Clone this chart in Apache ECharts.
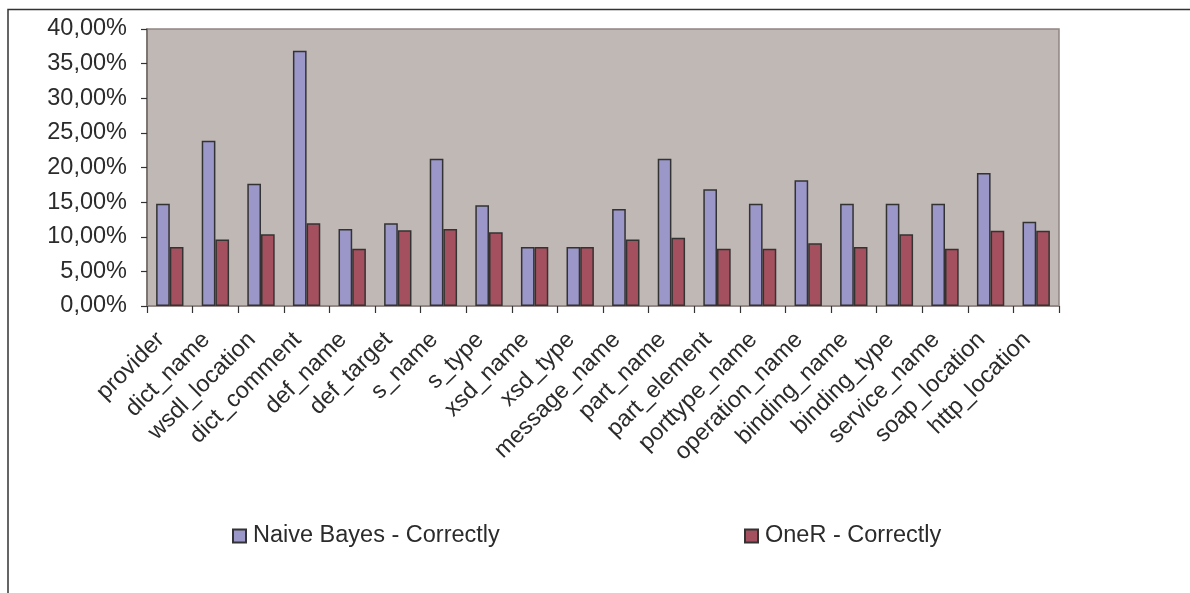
<!DOCTYPE html>
<html>
<head>
<meta charset="utf-8">
<script src="https://cdn.jsdelivr.net/npm/echarts@6/dist/echarts.min.js"></script>
<style>
  html, body { margin: 0; padding: 0; background: #ffffff; }
  #chart { width: 1190px; height: 593px; }
</style>
</head>
<body>
<div id="chart"></div>
<script>
// WSDL element names on the category axis
const categories = [
  'provider', 'dict_name', 'wsdl_location', 'dict_comment', 'def_name',
  'def_target', 's_name', 's_type', 'xsd_name', 'xsd_type',
  'message_name', 'part_name', 'part_element', 'porttype_name', 'operation_name',
  'binding_name', 'binding_type', 'service_name', 'soap_location', 'http_location'
];

// Share of correctly classified instances, in percent
const naiveBayes = [
  14.77, 23.87, 17.66, 36.87, 11.12,
  11.94, 21.27, 14.54, 8.52, 8.52,
  14.00, 21.27, 16.85, 14.77, 18.15,
  14.77, 14.77, 14.77, 19.20, 12.18
];
const oneR = [
  8.52, 9.62, 10.35, 11.94, 8.28,
  10.93, 11.12, 10.64, 8.52, 8.52,
  9.62, 9.87, 8.28, 8.28, 9.05,
  8.52, 10.35, 8.28, 10.88, 10.88
];

const seriesNames = ['Naive Bayes - Correctly', 'OneR - Correctly'];

const FONT = '"Liberation Sans", Arial, sans-serif';
const TEXT = '#2b2b2b';
const FONT_SIZE = 23.5;

const chart = echarts.init(document.getElementById('chart'), null, { renderer: 'canvas' });

const pct = v => v.toFixed(2).replace('.', ',') + '%';

const legendText = { fontFamily: FONT, fontSize: FONT_SIZE, color: TEXT, padding: [0, 0, 0, 2] };

chart.setOption({
  animation: false,
  backgroundColor: '#ffffff',
  textStyle: { fontFamily: FONT },
  graphic: [{
    type: 'polyline',
    shape: { points: [[8, 600], [8, 9.5], [1200, 9.5]] },
    style: { stroke: '#333333', lineWidth: 1.5, fill: null }
  }],
  grid: {
    left: 147, right: 131, top: 29, bottom: 287,
    show: true,
    backgroundColor: '#c0b8b5',
    borderColor: '#8f8583',
    borderWidth: 1.5
  },
  legend: [
    {
      data: [seriesNames[0]],
      left: 232, top: 524,
      padding: 0,
      itemWidth: 13, itemHeight: 13,
      icon: 'rect',
      textStyle: legendText
    },
    {
      data: [seriesNames[1]],
      left: 744, top: 524,
      padding: 0,
      itemWidth: 13, itemHeight: 13,
      icon: 'rect',
      textStyle: legendText
    }
  ],
  xAxis: {
    type: 'category',
    data: categories,
    axisLine: { lineStyle: { color: '#8f8583', width: 1.5 } },
    axisTick: { show: true, length: 7, lineStyle: { color: '#333333', width: 1.2 } },
    axisLabel: {
      interval: 0,
      rotate: 45,
      margin: 21,
      padding: [0, 13, 0, 0],
      fontFamily: FONT,
      fontSize: FONT_SIZE,
      color: TEXT
    },
    splitLine: { show: false }
  },
  yAxis: {
    type: 'value',
    min: 0, max: 40, interval: 5,
    axisLine: { show: true, lineStyle: { color: '#6f6866', width: 1.5 } },
    axisTick: { show: true, length: 6, lineStyle: { color: '#333333', width: 1.2 } },
    axisLabel: {
      formatter: pct,
      margin: 20,
      fontFamily: FONT,
      fontSize: FONT_SIZE,
      color: TEXT
    },
    splitLine: { show: false }
  },
  series: [
    {
      name: seriesNames[0],
      type: 'bar',
      data: naiveBayes,
      barGap: '0%',
      barCategoryGap: '40%',
      itemStyle: { color: '#9b97c9', borderColor: '#333333', borderWidth: 1.5 }
    },
    {
      name: seriesNames[1],
      type: 'bar',
      data: oneR,
      barGap: '0%',
      barCategoryGap: '40%',
      itemStyle: { color: '#a5505f', borderColor: '#333333', borderWidth: 1.5 }
    }
  ]
});
</script>
</body>
</html>
